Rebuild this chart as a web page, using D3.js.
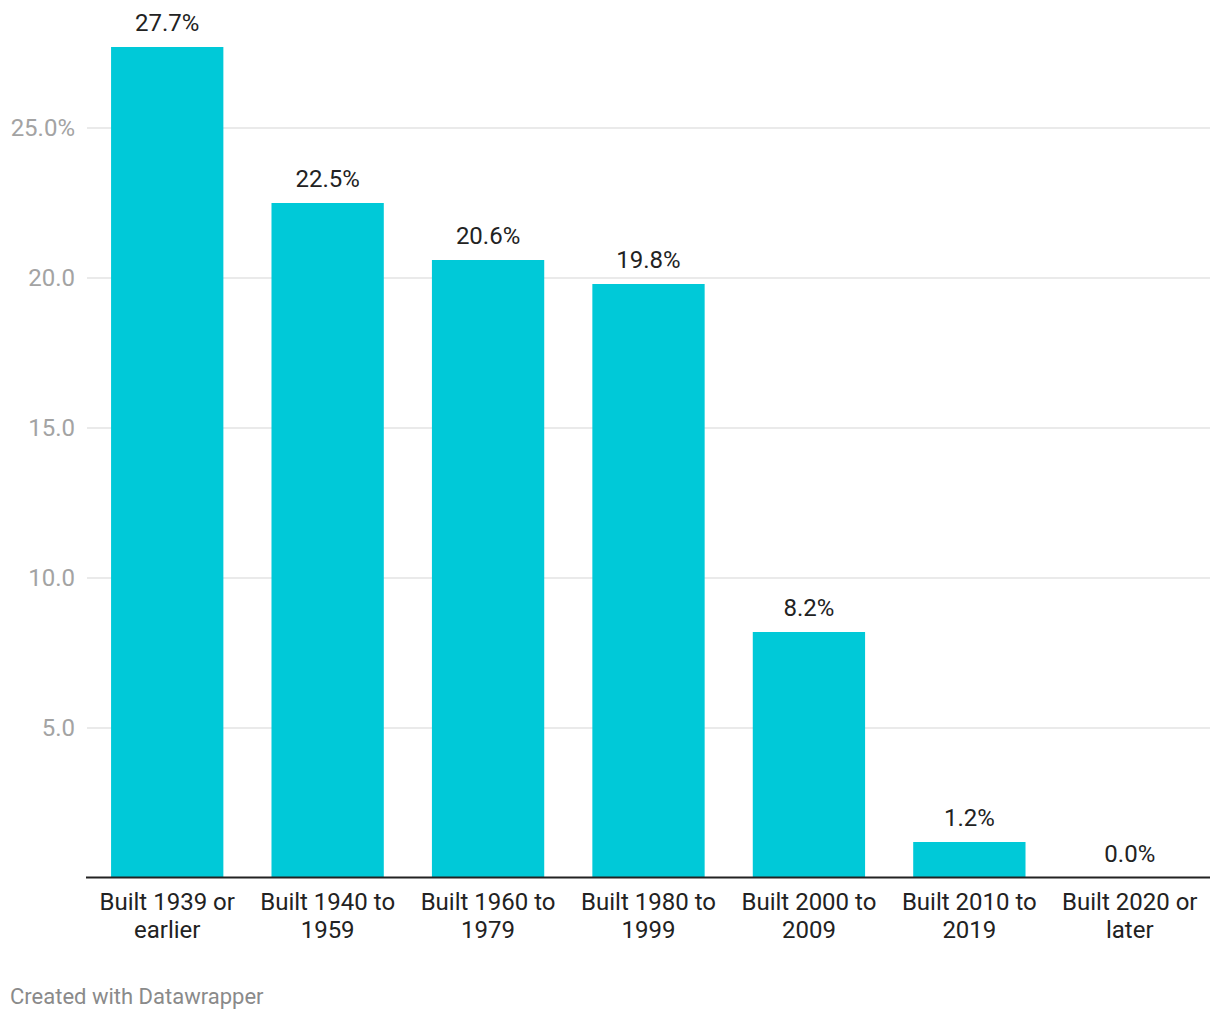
<!DOCTYPE html>
<html>
<head>
<meta charset="utf-8">
<script src="https://cdn.jsdelivr.net/npm/d3@7"></script>
<style>
  body { margin: 0; background: #fff; }
  svg { font-family: Roboto, "Noto Sans", sans-serif; }
</style>
</head>
<body>
<svg id="chart" width="1220" height="1020"></svg>
<script>
var categories = ["Built 1939 or earlier", "Built 1940 to 1959", "Built 1960 to 1979",
  "Built 1980 to 1999", "Built 2000 to 2009", "Built 2010 to 2019", "Built 2020 or later"];
var labelLines = [["Built 1939 or", "earlier"], ["Built 1940 to", "1959"], ["Built 1960 to", "1979"],
  ["Built 1980 to", "1999"], ["Built 2000 to", "2009"], ["Built 2010 to", "2019"], ["Built 2020 or", "later"]];
var values = [27.7, 22.5, 20.6, 19.8, 8.2, 1.2, 0.0];
var yTicks = [5, 10, 15, 20, 25];

var svg = d3.select("#chart"),
  left = 87, right = 1210, bottom = 878;

var x = d3.scaleBand()
  .domain(categories)
  .range([left, right])
  .paddingInner(0.3)
  .paddingOuter(0.15);

var y = d3.scaleLinear()
  .domain([0, 25])
  .range([bottom, bottom - 750]);

// gridlines
svg.append("g").selectAll("line")
  .data(yTicks)
  .enter().append("line")
  .attr("x1", left).attr("x2", right)
  .attr("y1", function (d) { return y(d); })
  .attr("y2", function (d) { return y(d); })
  .attr("stroke", "#e3e3e3")
  .attr("stroke-width", 1.5);

// y tick labels
svg.append("g").selectAll("text")
  .data(yTicks)
  .enter().append("text")
  .attr("x", 75)
  .attr("y", function (d) { return y(d); })
  .attr("dy", "0.35em")
  .attr("text-anchor", "end")
  .attr("fill", "#a3a3a3")
  .style("font-size", "24px")
  .text(function (d) { return d === 25 ? d.toFixed(1) + "%" : d.toFixed(1); });

// bars
svg.append("g").selectAll("rect")
  .data(values)
  .enter().append("rect")
  .attr("x", function (d, i) { return x(categories[i]); })
  .attr("width", x.bandwidth())
  .attr("y", function (d) { return y(d); })
  .attr("height", function (d) { return bottom - y(d); })
  .attr("fill", "#00c9d8");

// value labels
svg.append("g").selectAll("text")
  .data(values)
  .enter().append("text")
  .attr("x", function (d, i) { return x(categories[i]) + x.bandwidth() / 2; })
  .attr("y", function (d) { return y(d) - 16; })
  .attr("text-anchor", "middle")
  .attr("fill", "#222")
  .style("font-size", "24px")
  .text(function (d) { return d.toFixed(1) + "%"; });

// baseline
svg.append("line")
  .attr("x1", left - 1).attr("x2", right)
  .attr("y1", bottom - 0.5).attr("y2", bottom - 0.5)
  .attr("stroke", "#222")
  .attr("stroke-width", 2);

// x labels
var xl = svg.append("g").selectAll("text")
  .data(labelLines)
  .enter().append("text")
  .attr("x", function (d, i) { return x(categories[i]) + x.bandwidth() / 2; })
  .attr("y", 910)
  .attr("text-anchor", "middle")
  .attr("fill", "#222")
  .style("font-size", "24px");

xl.selectAll("tspan")
  .data(function (d) { return d; })
  .enter().append("tspan")
  .attr("x", function () { return d3.select(this.parentNode).attr("x"); })
  .attr("dy", function (d, i) { return i === 0 ? 0 : 28; })
  .text(function (d) { return d; });

// footer
svg.append("text")
  .attr("x", 10)
  .attr("y", 1004)
  .attr("fill", "#8a8a8a")
  .style("font-size", "22px")
  .text("Created with Datawrapper");
</script>
</body>
</html>
